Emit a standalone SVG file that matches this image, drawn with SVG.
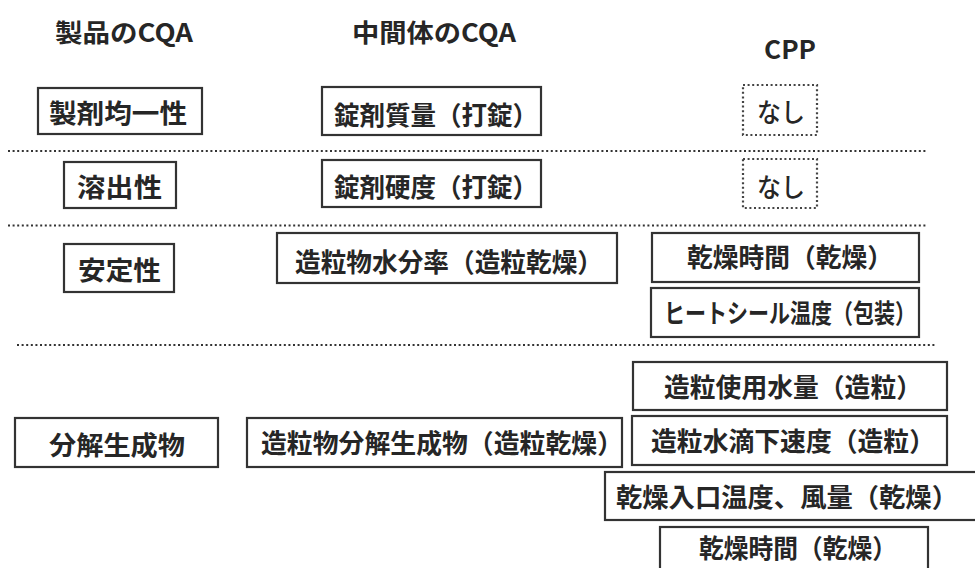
<svg xmlns="http://www.w3.org/2000/svg" width="975" height="568" viewBox="0 0 975 568">
<defs>
<style>
.t{font-family:"Noto Sans CJK JP","Liberation Sans",sans-serif;font-weight:700;font-size:26px;fill:#262626}
.h{font-family:"Noto Sans CJK JP","Liberation Sans",sans-serif;font-weight:700;font-size:25px;fill:#262626}
.b{fill:#fff;stroke:#333;stroke-width:2.2}
.d{fill:#fff;stroke:#444;stroke-width:2.2;stroke-dasharray:2 2.6}
.sep{stroke:#333;stroke-width:2.2;stroke-dasharray:2 2.6;fill:none}
</style>
</defs>
<rect width="975" height="568" fill="#fff"/>
<g id="headers">
<text class="h" x="55" y="42" textLength="138" lengthAdjust="spacingAndGlyphs">製品のCQA</text>
<text class="h" x="352" y="42" textLength="164" lengthAdjust="spacingAndGlyphs">中間体のCQA</text>
<text class="h" x="764" y="59" textLength="52" lengthAdjust="spacingAndGlyphs">CPP</text>
</g>
<g id="separators">
<line class="sep" x1="8" y1="151" x2="927" y2="151"/>
<line class="sep" x1="8" y1="225.5" x2="927" y2="225.5"/>
<line class="sep" x1="17" y1="345" x2="935" y2="345"/>
</g>
<g id="n1"><rect class="b" x="38" y="88" width="164" height="46"/><text class="t" x="49" y="123" textLength="138" lengthAdjust="spacingAndGlyphs">製剤均一性</text></g>
<g id="n2"><rect class="b" x="322" y="87" width="219" height="48"/><text class="t" x="334" y="125" textLength="204" lengthAdjust="spacingAndGlyphs">錠剤質量（打錠）</text></g>
<g id="n3"><rect class="d" x="743" y="85" width="74" height="50"/><text class="t" x="757" y="122" textLength="48" lengthAdjust="spacingAndGlyphs" style="font-weight:500">なし</text></g>
<g id="n4"><rect class="b" x="64" y="162" width="112" height="46"/><text class="t" x="77" y="197" textLength="85" lengthAdjust="spacingAndGlyphs">溶出性</text></g>
<g id="n5"><rect class="b" x="322" y="160" width="219" height="47"/><text class="t" x="334" y="197" textLength="204" lengthAdjust="spacingAndGlyphs">錠剤硬度（打錠）</text></g>
<g id="n6"><rect class="d" x="743" y="159" width="74" height="49"/><text class="t" x="757" y="197" textLength="48" lengthAdjust="spacingAndGlyphs" style="font-weight:500">なし</text></g>
<g id="n7"><rect class="b" x="64" y="244" width="110" height="48"/><text class="t" x="78" y="280" textLength="83" lengthAdjust="spacingAndGlyphs">安定性</text></g>
<g id="n8"><rect class="b" x="277" y="233" width="340" height="50"/><text class="t" x="295" y="272" textLength="308" lengthAdjust="spacingAndGlyphs">造粒物水分率（造粒乾燥）</text></g>
<g id="n9"><rect class="b" x="652" y="233" width="267" height="49"/><text class="t" x="687" y="267" textLength="206" lengthAdjust="spacingAndGlyphs">乾燥時間（乾燥）</text></g>
<g id="n10"><rect class="b" x="651" y="288" width="268" height="49"/><text class="t" x="664" y="323" textLength="252" lengthAdjust="spacingAndGlyphs">ヒートシール温度（包装）</text></g>
<g id="n11"><rect class="b" x="633" y="362" width="314" height="48"/><text class="t" x="664" y="397" textLength="258" lengthAdjust="spacingAndGlyphs">造粒使用水量（造粒）</text></g>
<g id="n12"><rect class="b" x="15" y="418" width="203" height="49"/><text class="t" x="49" y="455" textLength="136" lengthAdjust="spacingAndGlyphs">分解生成物</text></g>
<g id="n13"><rect class="b" x="247" y="418" width="375" height="49"/><text class="t" x="261" y="453" textLength="362" lengthAdjust="spacingAndGlyphs">造粒物分解生成物（造粒乾燥）</text></g>
<g id="n14"><rect class="b" x="632" y="416" width="315" height="49"/><text class="t" x="651" y="451" textLength="284" lengthAdjust="spacingAndGlyphs">造粒水滴下速度（造粒）</text></g>
<g id="n15"><rect class="b" x="605" y="472" width="380" height="48"/><text class="t" x="616" y="507" textLength="342" lengthAdjust="spacingAndGlyphs">乾燥入口温度、風量（乾燥）</text></g>
<g id="n16"><rect class="b" x="660" y="527" width="268" height="50"/><text class="t" x="699" y="558" textLength="198" lengthAdjust="spacingAndGlyphs">乾燥時間（乾燥）</text></g>
<g id="connectors"></g>
</svg>
